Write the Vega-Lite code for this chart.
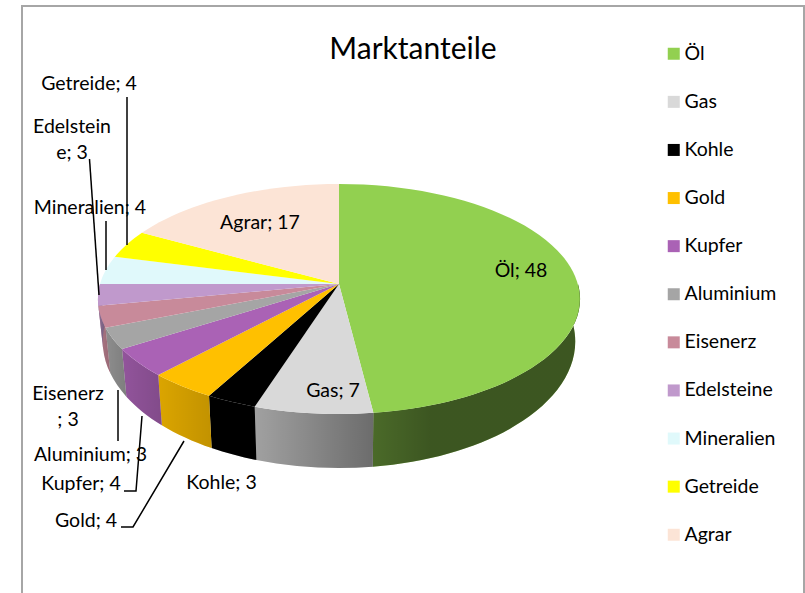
{
"$schema":"https://vega.github.io/schema/vega-lite/v6.json",
"autosize":"none","padding":0,"width":805,"height":593,"background":"white",
"title":{"text":"Marktanteile","font":"Lato","fontSize":30,"fontWeight":"normal","color":"#000000","anchor":"middle","align":"center","baseline":"middle","dx":10.5,"offset":-80},
"config":{"view":{"stroke":null},"axis":{"disable":true}},
"data":{"name":"anteile","values":[
{"nr":1,"name":"Öl","wert":48},
{"nr":2,"name":"Gas","wert":7},
{"nr":3,"name":"Kohle","wert":3},
{"nr":4,"name":"Gold","wert":4},
{"nr":5,"name":"Kupfer","wert":4},
{"nr":6,"name":"Aluminium","wert":3},
{"nr":7,"name":"Eisenerz","wert":3},
{"nr":8,"name":"Edelsteine","wert":3},
{"nr":9,"name":"Mineralien","wert":4},
{"nr":10,"name":"Getreide","wert":4},
{"nr":11,"name":"Agrar","wert":17}
]},
"transform":[
{"window":[{"op":"sum","field":"wert","as":"kum"}],"sort":[{"field":"nr","order":"ascending"}]},
{"calculate":"(datum.kum-datum.wert)/100*2*PI","as":"a1"},
{"calculate":"datum.kum/100*2*PI","as":"a2"},
{"calculate":"round(23900*sin(datum.a1)/(1+0.1304*cos(datum.a1)))/100","as":"x1"},
{"calculate":"round(-11304*cos(datum.a1)/(1+0.1304*cos(datum.a1)))/100","as":"y1"},
{"calculate":"round(23900*sin(datum.a2)/(1+0.1304*cos(datum.a2)))/100","as":"x2"},
{"calculate":"round(-11304*cos(datum.a2)/(1+0.1304*cos(datum.a2)))/100","as":"y2"},
{"calculate":"'M0,0L'+datum.x1+','+datum.y1+'A241,115 0 0 1 '+datum.x2+','+datum.y2+'Z'","as":"oben"},
{"calculate":"clamp(datum.a1,PI/2,3*PI/2)","as":"w1"},
{"calculate":"clamp(datum.a2,PI/2,3*PI/2)","as":"w2"},
{"calculate":"round(23900*sin(datum.w1)/(1+0.1304*cos(datum.w1)))/100","as":"wx1"},
{"calculate":"round(-11304*cos(datum.w1)/(1+0.1304*cos(datum.w1)))/100","as":"wy1"},
{"calculate":"round(23900*sin(datum.w2)/(1+0.1304*cos(datum.w2)))/100","as":"wx2"},
{"calculate":"round(-11304*cos(datum.w2)/(1+0.1304*cos(datum.w2)))/100","as":"wy2"},
{"calculate":"'M'+datum.wx1+','+datum.wy1+'A241,115 0 0 1 '+datum.wx2+','+datum.wy2+'L'+round(98*datum.wx2)/100+','+round(110*datum.wy2+4100)/100+'A236,126.5 0 0 0 '+round(98*datum.wx1)/100+','+round(110*datum.wy1+4100)/100+'Z'","as":"wand"}
],
"layer":[
{"data":{"values":[{"teil":"Rahmen"}]},
 "transform":[],
 "mark":{"type":"point","filled":false,"opacity":1,"size":4,"stroke":"#a6a6a6","strokeWidth":2,"shape":"M22,594L22,6L804,6L804,594"},
 "encoding":{"x":{"value":0},"y":{"value":0}}},
{"transform":[{"filter":"datum.w2>datum.w1"}],
 "mark":{"type":"point","filled":true,"opacity":1,"size":4,"strokeWidth":0},
 "encoding":{"x":{"value":339},"y":{"value":284},
  "shape":{"field":"wand","type":"nominal","scale":null},
  "fill":{"field":"name","type":"nominal","sort":null,
   "scale":{"domain":["Öl","Gas","Kohle","Gold","Kupfer","Aluminium","Eisenerz","Edelsteine","Mineralien","Getreide","Agrar"],
    "range":["#92d050","#d9d9d9","#000000","#ffc000","#aa62b5","#a5a5a5","#c88a9a","#c099cc","#e0f9fb","#ffff00","#fce4d6"]},
   "legend":{"title":null,"orient":"none","legendX":664,"legendY":44,"symbolType":"square","symbolSize":144,"symbolStrokeWidth":0,"symbolOpacity":1,"labelFont":"Lato","labelFontSize":19.5,"labelColor":"#000000","labelOffset":1,"rowPadding":27.1,"labelLimit":130,"padding":0}}}},
{"transform":[{"filter":"datum.name=='Öl'"}],
 "mark":{"type":"point","filled":true,"opacity":1,"size":4,"strokeWidth":0,
  "fill":{"gradient":"linear","x1":0,"x2":1,"y1":0,"y2":0,"stops":[{"offset":0,"color":"rgba(0,0,0,0.49)"},{"offset":0.28,"color":"rgba(0,0,0,0.59)"},{"offset":1,"color":"rgba(0,0,0,0.59)"}]}},
 "encoding":{"x":{"value":339},"y":{"value":284},"shape":{"field":"wand","type":"nominal","scale":null}}},
{"transform":[{"filter":"datum.name=='Gas'"}],
 "mark":{"type":"point","filled":true,"opacity":1,"size":4,"strokeWidth":0,
  "fill":{"gradient":"linear","x1":0,"x2":1,"y1":0,"y2":0,"stops":[{"offset":0,"color":"rgba(0,0,0,0.26)"},{"offset":1,"color":"rgba(0,0,0,0.5)"}]}},
 "encoding":{"x":{"value":339},"y":{"value":284},"shape":{"field":"wand","type":"nominal","scale":null}}},
{"transform":[{"filter":"datum.w2>datum.w1 && datum.name!='Gas' && datum.name!='Öl'"}],
 "mark":{"type":"point","filled":true,"opacity":1,"size":4,"strokeWidth":0,
  "fill":{"gradient":"linear","x1":0,"x2":1,"y1":0,"y2":0,"stops":[{"offset":0,"color":"rgba(0,0,0,0.14)"},{"offset":1,"color":"rgba(0,0,0,0.24)"}]}},
 "encoding":{"x":{"value":339},"y":{"value":284},"shape":{"field":"wand","type":"nominal","scale":null}}},
{"mark":{"type":"point","filled":true,"opacity":1,"size":4,"strokeWidth":0},
 "encoding":{"x":{"value":339},"y":{"value":284},
  "shape":{"field":"oben","type":"nominal","scale":null},
  "fill":{"field":"name","type":"nominal","sort":null}}},
{"transform":[
  {"calculate":"{'Gold':'M184,441L133,527L121,527','Kupfer':'M142,416L136,491L124,491','Aluminium':'M118,390L118,441','Mineralien':'M106,221L106,270','Edelsteine':'M89.5,159L99,295','Getreide':'M127,97L127,245'}[datum.name]","as":"linie"},
  {"filter":"datum.linie"}],
 "mark":{"type":"point","filled":false,"opacity":1,"size":4,"stroke":"#000000","strokeWidth":1.5},
 "encoding":{"x":{"value":0},"y":{"value":0},"shape":{"field":"linie","type":"nominal","scale":null}}},
{"transform":[
  {"calculate":"{'Öl':[521,271],'Gas':[333,391],'Kohle':[221.5,483],'Gold':[86,521],'Kupfer':[81,484],'Aluminium':[90.5,455],'Eisenerz':[68,394],'Edelsteine':[72,127],'Mineralien':[90,208],'Getreide':[89,84],'Agrar':[260,223]}[datum.name]","as":"lp"},
  {"calculate":"datum.lp[0]","as":"lx"},
  {"calculate":"datum.lp[1]","as":"ly"},
  {"calculate":"{'Eisenerz':'Eisenerz\\n; 3','Edelsteine':'Edelstein\\ne; 3'}[datum.name]||(datum.name+'; '+datum.wert)","as":"beschriftung"}],
 "mark":{"type":"text","font":"Lato","fontSize":19.5,"color":"#000000","align":"center","baseline":"middle","lineBreak":"\n","lineHeight":26},
 "encoding":{"x":{"field":"lx","type":"quantitative","scale":null},"y":{"field":"ly","type":"quantitative","scale":null},"text":{"field":"beschriftung","type":"nominal"}}}
]
}
